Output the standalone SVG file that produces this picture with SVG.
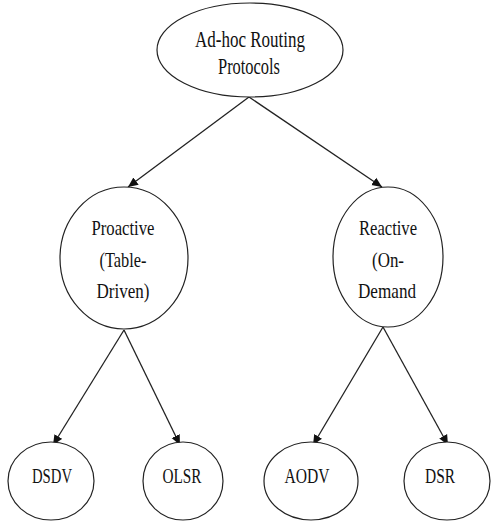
<svg xmlns="http://www.w3.org/2000/svg" width="491" height="523" viewBox="0 0 491 523">
<style>
.n{fill:#fff;stroke:#222;stroke-width:1.2}
.t{font-family:"Liberation Serif","Times New Roman",serif;font-size:22px;fill:#111;text-anchor:middle}
.e{stroke:#222;stroke-width:1.3;fill:none;marker-end:url(#ah)}
</style>
<defs>
<marker id="ah" viewBox="0 0 10 10" refX="10" refY="5" markerWidth="10" markerHeight="10" markerUnits="userSpaceOnUse" orient="auto">
<path d="M0,0.5 L10,5 L0,9.5 z" fill="#111"/>
</marker>
</defs>
<rect width="491" height="523" fill="#fff"/>
<g id="connectors">
<line class="e" x1="249" y1="97" x2="128" y2="187"/>
<line class="e" x1="249" y1="97" x2="382" y2="187"/>
<line class="e" x1="124" y1="330" x2="53" y2="445"/>
<line class="e" x1="124" y1="330" x2="180" y2="445"/>
<line class="e" x1="383" y1="327" x2="313" y2="445"/>
<line class="e" x1="383" y1="327" x2="448" y2="445"/>
</g>
<g id="root">
<ellipse class="n" cx="250" cy="50" rx="93" ry="47"/>
<text class="t" x="250" y="47" textLength="110" lengthAdjust="spacingAndGlyphs" style="font-size:23px">Ad-hoc Routing</text>
<text class="t" x="249" y="74" textLength="62" lengthAdjust="spacingAndGlyphs" style="font-size:23px">Protocols</text>
</g>
<g id="proactive">
<ellipse class="n" cx="124" cy="258" rx="64" ry="71"/>
<text class="t" x="123" y="235" textLength="63" lengthAdjust="spacingAndGlyphs">Proactive</text>
<text class="t" x="123" y="267" textLength="47" lengthAdjust="spacingAndGlyphs">(Table-</text>
<text class="t" x="123" y="298" textLength="53" lengthAdjust="spacingAndGlyphs">Driven)</text>
</g>
<g id="reactive">
<ellipse class="n" cx="388" cy="257" rx="55" ry="70"/>
<text class="t" x="388" y="235" textLength="58" lengthAdjust="spacingAndGlyphs">Reactive</text>
<text class="t" x="388" y="267" textLength="32" lengthAdjust="spacingAndGlyphs">(On-</text>
<text class="t" x="387" y="298" textLength="58" lengthAdjust="spacingAndGlyphs">Demand</text>
</g>
<g id="dsdv">
<ellipse class="n" cx="51" cy="481" rx="43" ry="39"/>
<text class="t" x="52" y="483" textLength="40" lengthAdjust="spacingAndGlyphs">DSDV</text>
</g>
<g id="olsr">
<ellipse class="n" cx="183" cy="481" rx="40" ry="39"/>
<text class="t" x="182" y="483" textLength="39" lengthAdjust="spacingAndGlyphs">OLSR</text>
</g>
<g id="aodv">
<ellipse class="n" cx="311" cy="481" rx="47" ry="39"/>
<text class="t" x="307" y="483" textLength="45" lengthAdjust="spacingAndGlyphs">AODV</text>
</g>
<g id="dsr">
<ellipse class="n" cx="447" cy="481" rx="43" ry="39"/>
<text class="t" x="440" y="483" textLength="30" lengthAdjust="spacingAndGlyphs">DSR</text>
</g>
</svg>
